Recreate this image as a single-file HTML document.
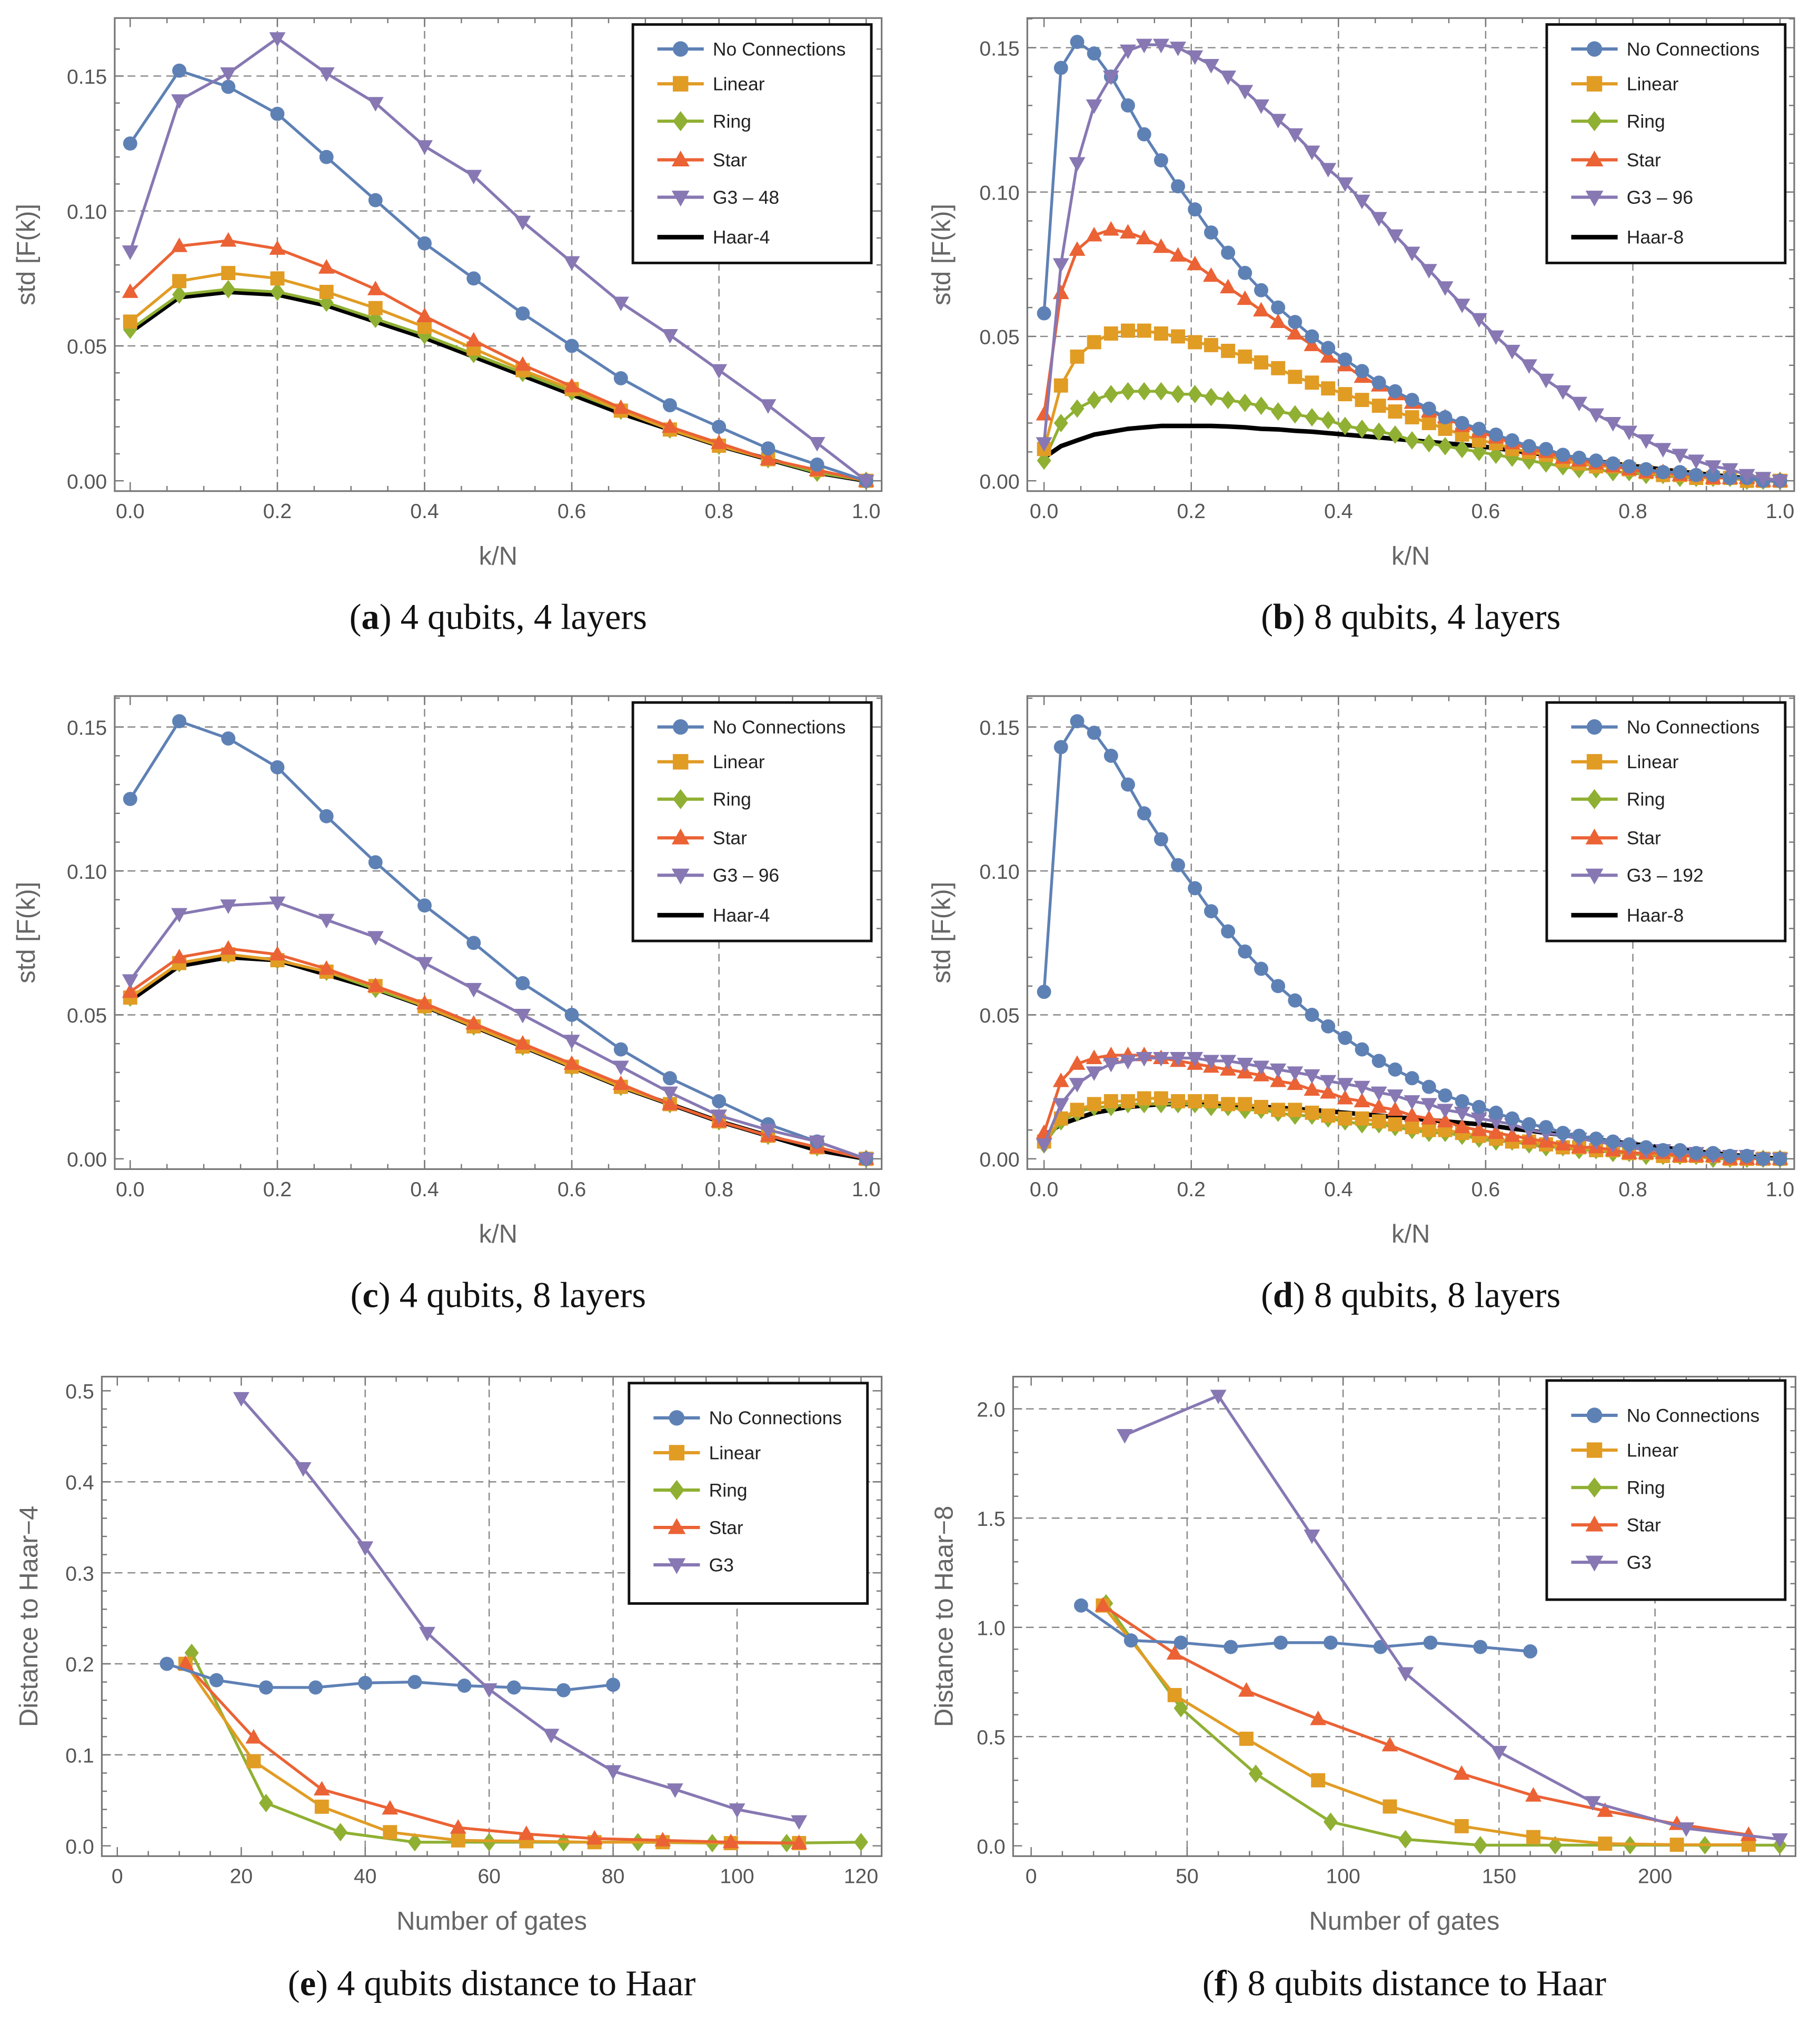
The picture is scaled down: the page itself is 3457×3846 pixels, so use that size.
<!DOCTYPE html>
<html><head><meta charset="utf-8"><style>
html,body{margin:0;padding:0;background:#fff;}
svg{display:block;}
</style></head><body>
<svg id="fig" xmlns="http://www.w3.org/2000/svg" width="3457" height="3846" viewBox="0 0 1412 1571" preserveAspectRatio="none" font-family="Liberation Sans, sans-serif"></svg>
<script>
// ---- data ----
const aX=[0,0.0667,0.1333,0.2,0.2667,0.3333,0.4,0.4667,0.5333,0.6,0.6667,0.7333,0.8,0.8667,0.9333,1];
const aNC=[.125,.152,.146,.136,.120,.104,.088,.075,.062,.050,.038,.028,.020,.012,.006,0];
const aLin=[.059,.074,.077,.075,.070,.064,.057,.049,.041,.034,.026,.019,.013,.008,.004,0];
const aRing=[.056,.069,.071,.070,.066,.060,.054,.047,.040,.033,.026,.019,.013,.008,.003,0];
const aStar=[.070,.087,.089,.086,.079,.071,.061,.052,.043,.035,.027,.020,.014,.008,.004,0];
const aG3=[.085,.141,.151,.164,.151,.140,.124,.113,.096,.081,.066,.054,.041,.028,.014,0];
const aHaar=[.055,.068,.070,.069,.065,.059,.053,.046,.039,.032,.025,.019,.013,.008,.003,0];
const cNC=[.125,.152,.146,.136,.119,.103,.088,.075,.061,.050,.038,.028,.020,.012,.006,0];
const cLin=[.056,.068,.071,.069,.065,.060,.053,.046,.039,.032,.025,.019,.013,.008,.004,0];
const cRing=[.056,.068,.071,.069,.065,.059,.053,.046,.039,.032,.025,.019,.013,.008,.004,0];
const cStar=[.058,.070,.073,.071,.066,.060,.054,.047,.040,.033,.026,.019,.013,.008,.004,0];
const cG3=[.062,.085,.088,.089,.083,.077,.068,.059,.050,.041,.032,.023,.015,.010,.006,0];
const cHaar=[.055,.067,.070,.069,.064,.059,.053,.046,.039,.032,.025,.019,.013,.008,.003,0];
const bX=[0,.023,.045,.068,.091,.114,.136,.159,.182,.205,.227,.25,.273,.295,.318,.341,.364,.386,.409,.432,.455,.477,.5,.523,.545,.568,.591,.614,.636,.659,.682,.705,.727,.75,.773,.795,.818,.841,.864,.886,.909,.932,.955,.977,1];
const bNC=[.058,.143,.152,.148,.140,.130,.120,.111,.102,.094,.086,.079,.072,.066,.060,.055,.050,.046,.042,.038,.034,.031,.028,.025,.022,.020,.018,.016,.014,.012,.011,.009,.008,.007,.006,.005,.004,.003,.003,.002,.002,.001,.001,0,0];
const bG3=[.013,.075,.110,.130,.140,.149,.151,.151,.150,.147,.144,.140,.135,.130,.125,.120,.114,.108,.103,.097,.091,.085,.079,.073,.067,.061,.056,.050,.045,.040,.035,.031,.027,.023,.020,.017,.014,.011,.009,.007,.005,.004,.002,.001,0];
const bStar=[.023,.065,.080,.085,.087,.086,.084,.081,.078,.075,.071,.067,.063,.059,.055,.051,.047,.043,.040,.036,.033,.030,.027,.024,.022,.019,.017,.015,.013,.011,.010,.008,.007,.006,.005,.004,.003,.003,.002,.002,.001,.001,.001,0,0];
const bLin=[.011,.033,.043,.048,.051,.052,.052,.051,.050,.048,.047,.045,.043,.041,.039,.036,.034,.032,.030,.028,.026,.024,.022,.020,.018,.016,.014,.013,.011,.010,.009,.007,.006,.005,.005,.004,.003,.002,.002,.001,.001,.001,0,0,0];
const bRing=[.007,.020,.025,.028,.030,.031,.031,.031,.030,.030,.029,.028,.027,.026,.024,.023,.022,.021,.019,.018,.017,.016,.014,.013,.012,.011,.010,.009,.008,.007,.006,.005,.004,.004,.003,.003,.002,.002,.001,.001,.001,.001,0,0,0];
const bHaar=[.008,.012,.014,.016,.017,.018,.0185,.019,.019,.019,.019,.0188,.0185,.018,.0178,.0173,.017,.0165,.016,.0155,.015,.0145,.014,.0135,.013,.0125,.012,.0113,.0105,.0098,.009,.0083,.0075,.0068,.006,.0053,.0046,.0039,.0032,.0026,.002,.0014,.0009,.0004,0];
const dNC=bNC;
const dStar=[.009,.027,.033,.035,.036,.036,.036,.035,.034,.033,.032,.031,.030,.029,.027,.026,.024,.023,.021,.020,.018,.017,.015,.014,.013,.011,.010,.009,.008,.007,.006,.005,.004,.004,.003,.002,.002,.002,.001,.001,.001,0,0,0,0];
const dG3=[.005,.019,.026,.030,.033,.034,.035,.035,.035,.035,.034,.034,.033,.032,.031,.030,.029,.027,.026,.025,.023,.022,.020,.019,.017,.016,.014,.013,.012,.010,.009,.008,.007,.006,.005,.004,.003,.003,.002,.002,.001,.001,.001,0,0];
const dLin=[.006,.014,.017,.019,.020,.020,.021,.021,.020,.020,.020,.019,.019,.018,.017,.017,.016,.015,.014,.014,.013,.012,.011,.010,.010,.009,.008,.007,.006,.006,.005,.004,.004,.003,.003,.002,.002,.001,.001,.001,.001,0,0,0,0];
const dRing=[.005,.013,.016,.018,.018,.019,.019,.019,.019,.019,.018,.018,.017,.017,.016,.015,.015,.014,.013,.012,.012,.011,.010,.009,.009,.008,.007,.006,.006,.005,.004,.004,.003,.003,.002,.002,.001,.001,.001,.001,0,0,0,0,0];
const dHaar=bHaar;
const eNCx=[8,16,24,32,40,48,56,64,72,80];
const eNC=[.200,.182,.174,.174,.179,.180,.176,.174,.171,.177];
const eLinx=[11,22,33,44,55,66,77,88,99,110];
const eLin=[.200,.093,.043,.015,.006,.005,.004,.004,.003,.003];
const eRingx=[12,24,36,48,60,72,84,96,108,120];
const eRing=[.212,.047,.015,.004,.004,.004,.004,.003,.003,.004];
const eStarx=[11,22,33,44,55,66,77,88,99,110];
const eStar=[.200,.119,.062,.041,.020,.013,.008,.006,.004,.003];
const eG3x=[20,30,40,50,60,70,80,90,100,110];
const eG3=[.492,.415,.328,.234,.172,.122,.082,.062,.040,.027];
const fNCx=[16,32,48,64,80,96,112,128,144,160];
const fNC=[1.10,.94,.93,.91,.93,.93,.91,.93,.91,.89];
const fLinx=[23,46,69,92,115,138,161,184,207,230];
const fLin=[1.10,.69,.49,.30,.18,.09,.04,.01,.005,.005];
const fRingx=[24,48,72,96,120,144,168,192,216,240];
const fRing=[1.11,.63,.33,.11,.03,.003,.003,.003,.003,.003];
const fStarx=[23,46,69,92,115,138,161,184,207,230];
const fStar=[1.10,.88,.71,.58,.46,.33,.23,.16,.10,.05];
const fG3x=[30,60,90,120,150,180,210,240];
const fG3=[1.88,2.06,1.42,.79,.43,.20,.08,.03];
const stdXTicks=[0,0.2,0.4,0.6,0.8,1.0];
const stdXLabels=["0.0","0.2","0.4","0.6","0.8","1.0"];
const stdYTicks=[0,0.05,0.10,0.15];
const stdYLabels=["0.00","0.05","0.10","0.15"];
const eXTicks=[0,20,40,60,80,100,120];
const eYTicks=[0,0.1,0.2,0.3,0.4,0.5];
const eYLabels=["0.0","0.1","0.2","0.3","0.4","0.5"];
const fXTicks=[0,50,100,150,200];
const fYTicks=[0,0.5,1.0,1.5,2.0];
const fYLabels=["0.0","0.5","1.0","1.5","2.0"];

const NS="http://www.w3.org/2000/svg";
const svg=document.getElementById('fig');
const COL={NC:"#5E81B5",Lin:"#E19C24",Ring:"#8FB032",Star:"#EB6235",G3:"#8778B3",Haar:"#000"};
const MK={NC:"circle",Lin:"square",Ring:"diamond",Star:"up",G3:"down"};
function el(tag,attrs,parent){const e=document.createElementNS(NS,tag);for(const k in attrs)e.setAttribute(k,attrs[k]);(parent||svg).appendChild(e);return e;}
function marker(g,type,x,y,c,s){
  let m;
  if(type==="circle") m=el('circle',{cx:x,cy:y,r:s,fill:c},g);
  else if(type==="square") m=el('rect',{x:x-s,y:y-s,width:2*s,height:2*s,fill:c},g);
  else if(type==="diamond") m=el('polygon',{points:`${x},${y-s*1.3} ${x+s},${y} ${x},${y+s*1.3} ${x-s},${y}`,fill:c},g);
  else if(type==="up") m=el('polygon',{points:`${x},${y-s*1.2} ${x+s*1.15},${y+s*0.85} ${x-s*1.15},${y+s*0.85}`,fill:c},g);
  else m=el('polygon',{points:`${x},${y+s*1.2} ${x+s*1.15},${y-s*0.85} ${x-s*1.15},${y-s*0.85}`,fill:c},g);
  
  
}
function panel(p){
  const g=el('g',{});
  
  
  const X=v=>p.x0+(v-p.xmin)/(p.xmax-p.xmin)*(p.x1-p.x0);
  const Y=v=>p.y0+(v-p.ymin)/(p.ymax-p.ymin)*(p.y1-p.y0);
  p.xgrid.forEach(v=>{const l=el('line',{x1:X(v),x2:X(v),y1:p.fy0,y2:p.fy1,stroke:"#888","stroke-width":1,"stroke-dasharray":"6,4"},g);});
  p.ygrid.forEach(v=>{const l=el('line',{y1:Y(v),y2:Y(v),x1:p.fx0,x2:p.fx1,stroke:"#888","stroke-width":1,"stroke-dasharray":"6,4"},g);});
  const fr=el('rect',{x:p.fx0,y:p.fy0,width:p.fx1-p.fx0,height:p.fy1-p.fy0,fill:"none",stroke:"#777","stroke-width":1.3},g);
  
  const xmaxT=p.xmaxT!==undefined?p.xmaxT:p.xmax;
  for(let v=p.xmin;v<=xmaxT+1e-9;v+=p.xminor){const major=Math.abs(Math.round(v/p.xmajor)*p.xmajor-v)<1e-6;const L=major?7:4;
    el('line',{x1:X(v),x2:X(v),y1:p.fy1,y2:p.fy1-L,stroke:"#777"},g);el('line',{x1:X(v),x2:X(v),y1:p.fy0,y2:p.fy0+L,stroke:"#777"},g);}
  for(let v=p.ymin;v<=p.ymaxT+1e-9;v+=p.yminor){const major=Math.abs(Math.round(v/p.ymajor)*p.ymajor-v)<1e-6;const L=major?7:4;
    el('line',{y1:Y(v),y2:Y(v),x1:p.fx0,x2:p.fx0+L,stroke:"#777"},g);el('line',{y1:Y(v),y2:Y(v),x1:p.fx1,x2:p.fx1-L,stroke:"#777"},g);}
  p.xticks.forEach((v,i)=>{const t=el('text',{x:X(v),y:p.fy1+21,"text-anchor":"middle","font-size":16,fill:"#555"},g);t.textContent=p.xlabels[i];});
  p.yticks.forEach((v,i)=>{const t=el('text',{x:p.fx0-6,y:Y(v)+6,"text-anchor":"end","font-size":16,fill:"#555"},g);t.textContent=p.ylabels[i];});
  const xl=el('text',{x:(p.fx0+p.fx1)/2,y:p.fy1+57,"text-anchor":"middle","font-size":20,fill:"#666"},g);xl.textContent=p.xtitle;
  
  const yl=el('text',{x:0,y:0,"text-anchor":"middle","font-size":20,fill:"#666",transform:`translate(${p.ytx},${(p.fy0+p.fy1)/2}) rotate(-90)`},g);yl.textContent=p.ytitle;
  
  p.series.forEach(s=>{
    const pts=s.y.map((v,i)=>`${X(s.x[i])},${Y(v)}`).join(' ');
    const pl=el('polyline',{points:pts,fill:"none",stroke:COL[s.k],"stroke-width":s.k==="Haar"?3.5:2.2,"stroke-linejoin":"round"},g);
    
    if(s.k!=="Haar") s.y.forEach((v,i)=>marker(g,MK[s.k],X(s.x[i]),Y(v),COL[s.k],p.ms));
  });
  const lg=el('g',{},g);
  el('rect',{x:p.lx0,y:p.ly0,width:p.lx1-p.lx0,height:p.ly1-p.ly0,fill:"#fff",stroke:"#111","stroke-width":2},lg);
  p.legend.forEach((e,i)=>{const yy=p.lrows[i];const lx=p.lx0+19;
    el('line',{x1:lx,x2:lx+36,y1:yy,y2:yy,stroke:COL[e[0]],"stroke-width":e[0]==="Haar"?3.5:2.5},lg);
    if(e[0]!=="Haar") marker(lg,MK[e[0]],lx+18,yy,COL[e[0]],6);
    const t=el('text',{x:lx+43,y:yy+5,"font-size":14.5,fill:"#222"},lg);t.textContent=e[1];
    });
  const cap=el('text',{x:(p.fx0+p.fx1)/2,y:p.capY,"text-anchor":"middle","font-size":28,fill:"#111","font-family":"Liberation Serif, serif"},g);
  cap.innerHTML=p.cap;
}
function stdPanel(name,fx0,fy0,x0,x1,y0,y15,ser,leg,cap,lx0,ytx){
  panel({name,fx0,fx1:fx0+595,fy0,fy1:fy0+367,x0,x1,xmin:0,xmax:1,y0,y1:y0-(y0-y15)*(0.17/0.15),ymin:0,ymax:0.17,ymaxT:0.165,
   xgrid:[0.2,0.4,0.6,0.8],ygrid:[0.05,0.10,0.15],xminor:0.05,xmajor:0.2,yminor:0.01,ymajor:0.05,
   xticks:stdXTicks,xlabels:stdXLabels,yticks:stdYTicks,ylabels:stdYLabels,xtitle:"k/N",ytitle:"std [F(k)]",ytx,
   series:ser,legend:leg,ms:5.5,lx0,lx1:lx0+185,ly0:fy0+5,ly1:fy0+190,lrows:[24,51,80,110,139,170].map(v=>v+fy0),
   cap,capY:fy0+474});
}
const S=(x,y,k)=>({x,y,k});
stdPanel('panel-a',89,14,101,672,373,59,[S(aX,aHaar,"Haar"),S(aX,aRing,"Ring"),S(aX,aLin,"Lin"),S(aX,aStar,"Star"),S(aX,aNC,"NC"),S(aX,aG3,"G3")],
 [["NC","No Connections"],["Lin","Linear"],["Ring","Ring"],["Star","Star"],["G3","G3 – 48"],["Haar","Haar-4"]],'(<tspan font-weight="bold">a</tspan>) 4 qubits, 4 layers',491,27);
stdPanel('panel-b',797,14,810,1381,373,37,[S(bX,bHaar,"Haar"),S(bX,bRing,"Ring"),S(bX,bLin,"Lin"),S(bX,bStar,"Star"),S(bX,bNC,"NC"),S(bX,bG3,"G3")],
 [["NC","No Connections"],["Lin","Linear"],["Ring","Ring"],["Star","Star"],["G3","G3 – 96"],["Haar","Haar-8"]],'(<tspan font-weight="bold">b</tspan>) 8 qubits, 4 layers',1200,737);
stdPanel('panel-c',89,540,101,672,899,564,[S(aX,cHaar,"Haar"),S(aX,cRing,"Ring"),S(aX,cLin,"Lin"),S(aX,cStar,"Star"),S(aX,cNC,"NC"),S(aX,cG3,"G3")],
 [["NC","No Connections"],["Lin","Linear"],["Ring","Ring"],["Star","Star"],["G3","G3 – 96"],["Haar","Haar-4"]],'(<tspan font-weight="bold">c</tspan>) 4 qubits, 8 layers',491,27);
stdPanel('panel-d',797,540,810,1381,899,564,[S(bX,dHaar,"Haar"),S(bX,dRing,"Ring"),S(bX,dLin,"Lin"),S(bX,dStar,"Star"),S(bX,dG3,"G3"),S(bX,dNC,"NC")],
 [["NC","No Connections"],["Lin","Linear"],["Ring","Ring"],["Star","Star"],["G3","G3 – 192"],["Haar","Haar-8"]],'(<tspan font-weight="bold">d</tspan>) 8 qubits, 8 layers',1200,737);
panel({name:'panel-e',fx0:79,fx1:684,fy0:1068,fy1:1440,x0:91,x1:668,xmin:0,xmax:120,y0:1432,y1:1079,ymin:0,ymax:0.5,ymaxT:0.5,
 xgrid:[40,60,80,100],ygrid:[0.1,0.2,0.3,0.4],xminor:5,xmajor:20,yminor:0.02,ymajor:0.1,
 xticks:eXTicks,xlabels:eXTicks.map(String),yticks:eYTicks,ylabels:eYLabels,xtitle:"Number of gates",ytitle:"Distance to Haar−4",ytx:29,
 series:[S(eRingx,eRing,"Ring"),S(eLinx,eLin,"Lin"),S(eStarx,eStar,"Star"),S(eNCx,eNC,"NC"),S(eG3x,eG3,"G3")],
 legend:[["NC","No Connections"],["Lin","Linear"],["Ring","Ring"],["Star","Star"],["G3","G3"]],ms:5.5,
 lx0:488,lx1:673,ly0:1073,ly1:1244,lrows:[1100,1127,1156,1185,1214],cap:'(<tspan font-weight="bold">e</tspan>) 4 qubits distance to Haar',capY:1548});
panel({name:'panel-f',fx0:786,fx1:1393,fy0:1068,fy1:1440,x0:800,x1:1284,xmin:0,xmax:200,xmaxT:240,y0:1432,y1:1093,ymin:0,ymax:2.0,ymaxT:2.1,
 xgrid:[50,100,150,200],ygrid:[0.5,1.0,1.5,2.0],xminor:10,xmajor:50,yminor:0.1,ymajor:0.5,
 xticks:fXTicks,xlabels:fXTicks.map(String),yticks:fYTicks,ylabels:fYLabels,xtitle:"Number of gates",ytitle:"Distance to Haar−8",ytx:739,
 series:[S(fRingx,fRing,"Ring"),S(fLinx,fLin,"Lin"),S(fStarx,fStar,"Star"),S(fNCx,fNC,"NC"),S(fG3x,fG3,"G3")],
 legend:[["NC","No Connections"],["Lin","Linear"],["Ring","Ring"],["Star","Star"],["G3","G3"]],ms:5.5,
 lx0:1200,lx1:1385,ly0:1071,ly1:1241,lrows:[1098,1125,1154,1183,1212],cap:'(<tspan font-weight="bold">f</tspan>) 8 qubits distance to Haar',capY:1548});
</script>
</body></html>
